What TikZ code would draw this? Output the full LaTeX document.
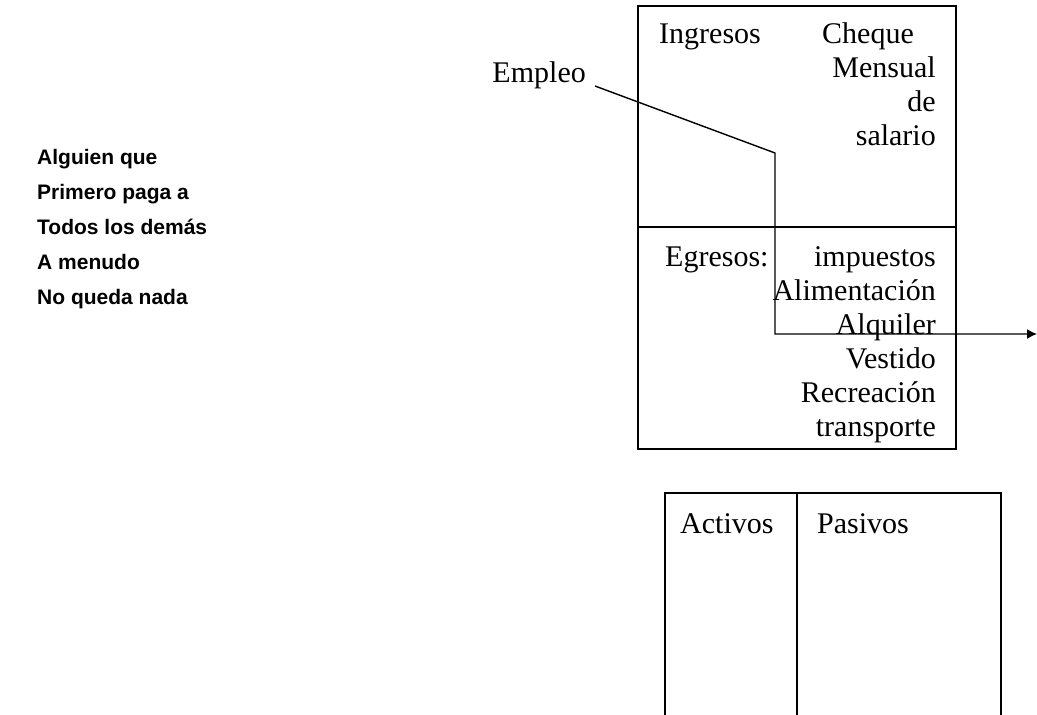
\documentclass[tikz,border=0pt]{standalone}
\usepackage{fontspec}
\setmainfont{Liberation Serif}
\newfontfamily\arialfont{Liberation Sans}
\usetikzlibrary{arrows.meta}
\tikzset{
  serif/.style={inner sep=0pt, font=\fontsize{30}{34}\selectfont},
  lefttxt/.style={inner sep=0pt, anchor=base west, font=\arialfont\bfseries\fontsize{21}{24}\selectfont},
  boxline/.style={line width=1.6pt, draw=black},
  conn/.style={line width=1.4pt, draw=black}
}
\begin{document}
\begin{tikzpicture}[x=1pt,y=-1pt]
\useasboundingbox (0,0) rectangle (1037,715);
% left text
\node[lefttxt] (l1) at (37,164) {Alguien que};
\node[lefttxt] (l2) at (37,199) {Primero paga a};
\node[lefttxt] (l3) at (37,234) {Todos los demás};
\node[lefttxt] (l4) at (37,269) {A menudo};
\node[lefttxt] (l5) at (37,304) {No queda nada};
% top box
\draw[boxline] (638,6) rectangle (956,449);
\draw[boxline] (638,227) -- (956,227);
\node[serif, anchor=base west] (ing) at (659,43) {Ingresos};
\node[serif, anchor=base west] (cheque) at (822,43) {Cheque};
\node[serif, anchor=base east] (mensual) at (936,77) {Mensual};
\node[serif, anchor=base east] (de) at (936,111) {de};
\node[serif, anchor=base east] (salario) at (936,145) {salario};
\node[serif, anchor=base west] (egr) at (665,266) {Egresos:};
\node[serif, anchor=base east] (imp) at (936,266) {impuestos};
\node[serif, anchor=base east] (alim) at (936,300) {Alimentación};
\node[serif, anchor=base east] (alq) at (936,334) {Alquiler};
\node[serif, anchor=base east] (vest) at (936,368) {Vestido};
\node[serif, anchor=base east] (recr) at (936,402) {Recreación};
\node[serif, anchor=base east] (transp) at (936,436) {transporte};
% Empleo
\node[serif, anchor=base east] (empleo) at (586,82) {Empleo};
% bottom box
\draw[boxline] (665,715) -- (665,493) -- (1001,493) -- (1001,715);
\draw[boxline] (797,493) -- (797,715);
\node[serif, anchor=base west] (act) at (680,533) {Activos};
\node[serif, anchor=base west] (pas) at (817,533) {Pasivos};
% connector
\coordinate (start) at (595,86);
\coordinate (bend1) at (775,153);
\coordinate (bend2) at (775,334);
\coordinate (end) at (1037,334);
\draw[conn, -{Latex[length=10pt,width=10pt]}] (start) -- (bend1) -- (bend2) -- (end);
\end{tikzpicture}
\end{document}
